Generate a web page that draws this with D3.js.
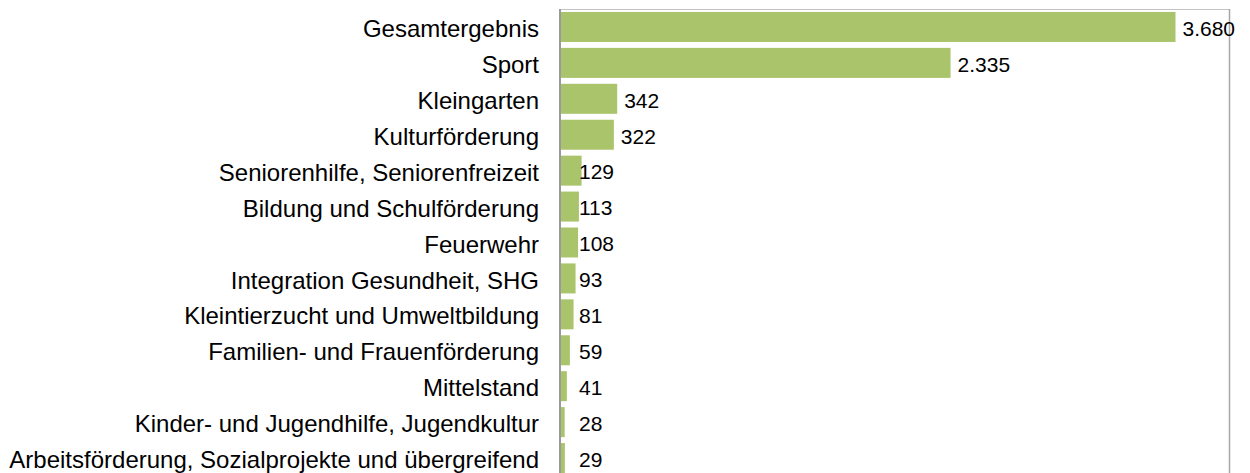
<!DOCTYPE html>
<html>
<head>
<meta charset="utf-8">
<script src="https://cdn.jsdelivr.net/npm/d3@7"></script>
<style>
  body {margin: 0; background: #fff;}
  text {font-family: "Liberation Sans", Arial, sans-serif; fill: #000;}
</style>
</head>
<body>
<script>
var categories = ["Gesamtergebnis", "Sport", "Kleingarten", "Kulturförderung",
  "Seniorenhilfe, Seniorenfreizeit", "Bildung und Schulförderung", "Feuerwehr",
  "Integration Gesundheit, SHG", "Kleintierzucht und Umweltbildung",
  "Familien- und Frauenförderung", "Mittelstand",
  "Kinder- und Jugendhilfe, Jugendkultur",
  "Arbeitsförderung, Sozialprojekte und übergreifend"];
var values = [3680, 2335, 342, 322, 129, 113, 108, 93, 81, 59, 41, 28, 29];
var valueLabels = ["3.680", "2.335", "342", "322", "129", "113", "108", "93", "81", "59", "41", "28", "29"];

var W = 1250, H = 473;
var plotLeft = 560, plotRight = 1229, plotTop = 9, plotBottom = 476;

var svg = d3.select("body").append("svg")
  .attr("width", W).attr("height", H);

var x = d3.scaleLinear().domain([0, 4000]).range([plotLeft, plotRight]);
var y = d3.scaleBand().domain(categories).range([plotTop, plotBottom])
  .paddingInner(0.165).paddingOuter(0.0825);

// plot frame
svg.append("line").attr("x1", plotLeft).attr("x2", plotRight)
  .attr("y1", plotTop + 0.5).attr("y2", plotTop + 0.5)
  .attr("stroke", "#c4c4c4").attr("stroke-width", 1);
svg.append("line").attr("x1", plotRight + 0.5).attr("x2", plotRight + 0.5)
  .attr("y1", plotTop).attr("y2", H)
  .attr("stroke", "#a6a6a6").attr("stroke-width", 1.5);

svg.selectAll("rect.bar")
  .data(values)
  .enter()
  .append("rect")
  .attr("class", "bar")
  .attr("x", x(0))
  .attr("y", function(d, i){ return y(categories[i]); })
  .attr("width", function(d){ return x(d) - x(0); })
  .attr("height", y.bandwidth())
  .style("fill", "#a9c46b");

// left axis line
svg.append("line").attr("x1", plotLeft).attr("x2", plotLeft)
  .attr("y1", plotTop).attr("y2", H)
  .attr("stroke", "#9a9a9a").attr("stroke-width", 2);

// small bars get their label at a fixed spot next to the axis
svg.selectAll("text.val")
  .data(values)
  .enter()
  .append("text")
  .attr("class", "val")
  .attr("x", function(d){ return d < 200 ? x(0) + 19 : x(d) + 7; })
  .attr("y", function(d, i){ return y(categories[i]) + y.bandwidth() / 2; })
  .attr("dy", "0.42em")
  .attr("font-size", "21px")
  .text(function(d, i){ return valueLabels[i]; });

svg.selectAll("text.cat")
  .data(categories)
  .enter()
  .append("text")
  .attr("class", "cat")
  .attr("x", plotLeft - 21)
  .attr("y", function(d){ return y(d) + y.bandwidth() / 2; })
  .attr("dy", "0.42em")
  .attr("text-anchor", "end")
  .attr("font-size", "24px")
  .text(function(d){ return d; });
</script>
</body>
</html>
